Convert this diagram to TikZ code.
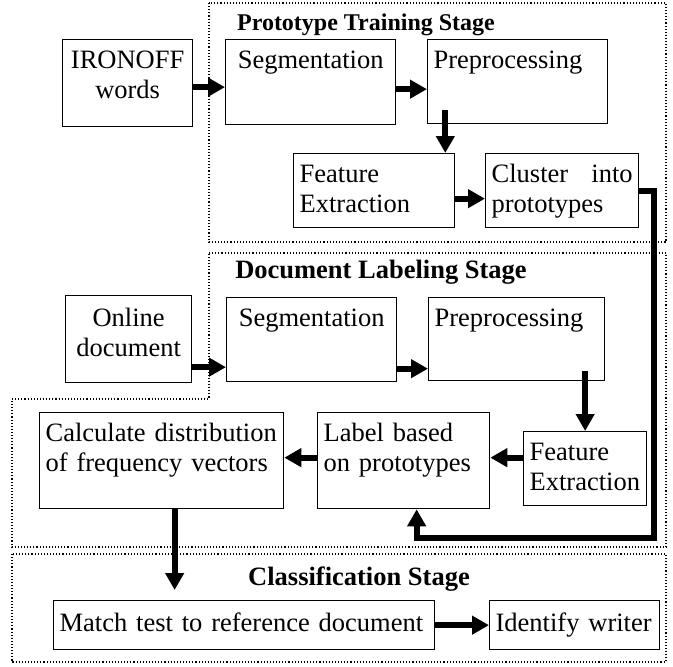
\documentclass[tikz,border=0pt]{standalone}
\usepackage{fontspec}
\setmainfont{Liberation Serif}
\usetikzlibrary{arrows.meta}
\newcommand{\boxfont}{\fontsize{26.5}{30}\selectfont}
\tolerance=10000
\hyphenpenalty=10000
\tikzset{
    box/.style={draw, line width=1.3pt, anchor=north west, inner xsep=6pt, inner ysep=0pt, text height=29pt, font=\boxfont},
    flow/.style={line width=6pt, -{Triangle[length=17pt, width=18pt]}},
    stage/.style={dotted, line width=1.1pt},
    title/.style={font=\boxfont\bfseries},
    px units/.style={x=1pt, y=-1pt}
}

\begin{document}
\begin{tikzpicture}[px units]
    \useasboundingbox (0,0) rectangle (673,667);

    % Stage frames
    \draw[stage] (209,3) rectangle (666,242);
    \draw[stage] (209,253) -- (666,253) -- (666,547) -- (12,547) -- (12,399) -- (209,399) -- cycle;
    \draw[stage] (12,554) rectangle (666,662);

    \node[title, font=\fontsize{24}{28}\selectfont\bfseries] (ttrain) at (366,25) {Prototype Training Stage};
    \node[title] (tlabel) at (381,272) {Document Labeling Stage};
    \node[title] (tclass) at (359,579) {Classification Stage};

    % Prototype training
    \node[box, text width=118pt, text depth=58pt, align=center] (ironoff) at (62,39) {IRONOFF\\words};
    \node[box, text width=158pt, text depth=56pt, align=center] (seg1) at (225,39) {Segmentation};
    \node[box, text width=168pt, text depth=55pt, align=left] (pre1) at (427,39) {Preprocessing};
    \node[box, text width=149pt, text depth=45pt, align=left] (feat1) at (293,153) {Feature\\Extraction};
    \node[box, text width=141pt, text depth=45pt, align=justify] (clus1) at (485,153) {Cluster into prototypes};

    % Document labeling
    \node[box, text width=114pt, text height=31pt, text depth=56pt, align=center] (online) at (65,295) {Online\\document};
    \node[box, text width=158pt, text depth=55pt, align=center] (seg2) at (226,297) {Segmentation};
    \node[box, text width=164pt, text depth=54pt, align=left] (pre2) at (428,297) {Preprocessing};
    \node[box, text width=111pt, text depth=45pt, align=left] (feat2) at (523,431) {Feature\\Extraction};
    \node[box, text width=160pt, text depth=67pt, align=left] (label) at (317,412) {Label based\\on prototypes};
    \node[box, text width=232pt, text depth=67pt, align=left] (calc) at (39,412) {Calculate distribution\\of frequency vectors};

    % Classification
    \node[box, text width=369pt, text height=31pt, text depth=18pt, align=left] (match) at (53,600) {Match test to reference document};
    \node[box, text width=158pt, text height=31pt, text depth=18pt, align=left] (ident) at (489,600) {Identify writer};

    % Connectors
    \coordinate (p1) at ([xshift=-10pt]feat1.north east);
    \coordinate (back) at (654,538);
    \coordinate (c1) at ([xshift=13pt]calc.south);

    \draw[flow] ([yshift=-4pt]ironoff.east) -- ([yshift=-4pt]ironoff.east -| seg1.west);
    \draw[flow] ([yshift=-7pt]seg1.east) -- ([yshift=-7pt]seg1.east -| pre1.west);
    \draw[flow] ([yshift=14pt]p1 |- pre1.south) -- (p1);
    \draw[flow] ([yshift=-8pt]feat1.east) -- ([yshift=-8pt]feat1.east -| clus1.west);
    \draw[flow] (clus1.east) -| (back) -| ([xshift=13pt]label.south);

    \draw[flow] ([yshift=-28pt]online.east) -- ([yshift=-28pt]online.east -| seg2.west);
    \draw[flow] ([yshift=-29pt]seg2.east) -- ([yshift=-29pt]seg2.east -| pre2.west);
    \draw[flow] ([yshift=10pt]pre2.south -| feat2.north) -- (feat2.north);
    \draw[flow] ([yshift=11pt]feat2.west) -- ([yshift=11pt]feat2.west -| label.east);
    \draw[flow] ([yshift=3pt]label.west) -- ([yshift=3pt]label.west -| calc.east);

    \draw[flow] (c1) -- ([yshift=10pt]c1 |- match.north);
    \draw[flow] (match.east) -- (ident.west);
\end{tikzpicture}
\end{document}
